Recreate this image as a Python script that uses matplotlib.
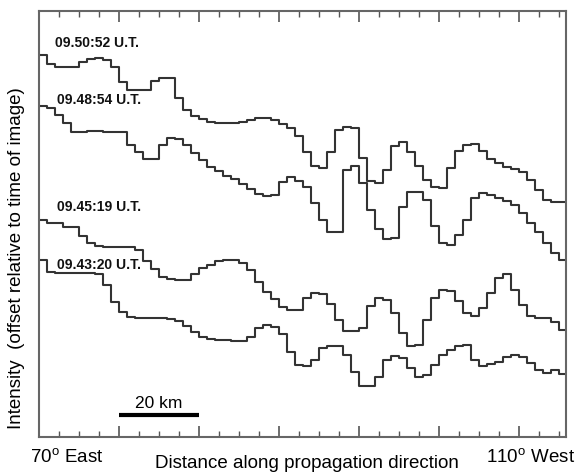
import numpy as np
import matplotlib
matplotlib.use("Agg")
import matplotlib.pyplot as plt
from matplotlib.ticker import MultipleLocator

plt.rcParams['font.family'] = ['Liberation Sans', 'DejaVu Sans']
plt.rcParams['mathtext.fontset'] = 'custom'
plt.rcParams['mathtext.rm'] = 'Liberation Sans'

# distance samples (km), every 2 km
step_km = 2.0
n = 67
distance = np.arange(n) * step_km

labels = ["09.50:52 U.T.", "09.48:54 U.T.", "09.45:19 U.T.", "09.43:20 U.T."]

# intensity (offset, arbitrary units)
int_0950 = [382, 373, 370, 370, 370, 375, 378, 379, 377, 370, 355, 347, 347, 347, 356, 359, 359,
            339, 327, 321, 318, 315, 314, 314, 314, 315, 317, 319, 319, 317, 313, 309, 301, 285,
            271, 269, 285, 307, 310, 309, 279, 256, 254, 267, 291, 295, 285, 271, 257, 250, 249,
            269, 286, 292, 293, 286, 278, 274, 270, 268, 265, 257, 247, 237, 235, 235, 235]
int_0948 = [331, 329, 322, 314, 305, 305, 306, 306, 305, 305, 305, 292, 285, 278, 278, 292, 299,
            298, 292, 284, 277, 270, 266, 261, 258, 253, 248, 243, 241, 242, 255, 260, 256, 250,
            234, 217, 205, 205, 267, 271, 254, 227, 208, 198, 199, 230, 245, 245, 237, 211, 194,
            192, 202, 217, 239, 244, 242, 239, 236, 232, 224, 214, 205, 194, 184, 177, 175]
int_0945 = [217, 214, 214, 210, 210, 201, 194, 191, 190, 190, 190, 190, 187, 176, 168, 160, 158,
            157, 157, 163, 169, 172, 176, 177, 177, 174, 167, 155, 145, 138, 130, 127, 127, 139,
            144, 143, 133, 117, 106, 106, 109, 131, 139, 137, 124, 104, 91, 92, 117, 139, 147,
            146, 136, 124, 121, 129, 144, 159, 163, 147, 132, 121, 119, 119, 115, 107, 105]
int_0943 = [177, 165, 164, 164, 164, 164, 164, 163, 152, 135, 125, 120, 119, 119, 119, 119, 118,
            116, 111, 105, 100, 98, 97, 97, 96, 96, 100, 109, 112, 110, 103, 85, 72, 71, 77,
            89, 91, 91, 82, 65, 51, 51, 60, 77, 81, 79, 69, 60, 62, 72, 82, 87, 91, 92, 77,
            71, 73, 75, 80, 82, 80, 74, 67, 64, 67, 63, 62]

series = [int_0950, int_0948, int_0945, int_0943]
label_pos = [(4.0, 394), (4.5, 337), (4.5, 230), (4.5, 172)]

fig = plt.figure(figsize=(5.79, 4.74), dpi=100)
ax = fig.add_axes([39/579, 37/474, 527/579, 426/474])

line_color = '#333333'
for vals in series:
    ax.plot(distance, vals, drawstyle='steps-post', color=line_color, lw=1.5)

for lab, (lx, ly) in zip(labels, label_pos):
    ax.text(lx, ly, lab, fontsize=10, fontweight='bold', ha='left', va='center', color='#111111')

# scale bar
ax.plot([20, 40], [22, 22], color='black', lw=3, solid_capstyle='butt')
ax.text(30, 33, "20 km", fontsize=12.5, ha='center', va='center')

ax.set_xlim(0, 131.75)
ax.set_ylim(0, 426)
ax.xaxis.set_major_locator(MultipleLocator(20))
ax.xaxis.set_minor_locator(MultipleLocator(5))
ax.tick_params(axis='x', which='both', direction='in', top=True, bottom=True,
               labelbottom=False, color='#555555')
ax.tick_params(axis='x', which='major', length=8, width=1.2)
ax.tick_params(axis='x', which='minor', length=4, width=1.0)
ax.set_yticks([])
for s in ax.spines.values():
    s.set_color('#666666')
    s.set_linewidth(1.5)

fig.text(30/579, 1 - 458/474, r"70$^{\mathrm{o}}$ East", fontsize=13.5, ha='left', va='center')
fig.text(575/579, 1 - 458/474, r"110$^{\mathrm{o}}$ West", fontsize=13.5, ha='right', va='center')
fig.text(307/579, 1 - 464/474, "Distance along propagation direction", fontsize=13.5,
         ha='center', va='center')
fig.text(17/579, 1 - 258/474, "Intensity  (offset relative to time of image)", fontsize=13.5,
         ha='center', va='center', rotation=90)

fig.savefig("out.png", dpi=100)
